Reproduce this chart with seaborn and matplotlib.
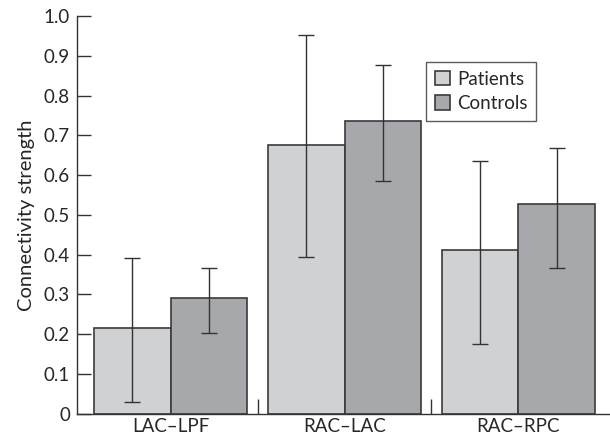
import numpy as np
import pandas as pd
import matplotlib
matplotlib.use('Agg')
import matplotlib.pyplot as plt
import seaborn as sns

# values
connections = ['LAC\u2013LPF', 'RAC\u2013LAC', 'RAC\u2013RPC']
groups = ['Patients', 'Controls']
patients_mean = [0.215, 0.675, 0.412]
controls_mean = [0.290, 0.735, 0.528]
patients_low = [0.030, 0.395, 0.175]
patients_high = [0.392, 0.952, 0.636]
controls_low = [0.202, 0.585, 0.367]
controls_high = [0.366, 0.878, 0.667]

df = pd.DataFrame({
    'connection': connections * 2,
    'group': [groups[0]] * 3 + [groups[1]] * 3,
    'strength': patients_mean + controls_mean,
    'low': patients_low + controls_low,
    'high': patients_high + controls_high,
})

sns.set_style('white')
plt.rcParams['font.family'] = ['Lato', 'DejaVu Sans']

fig = plt.figure(figsize=(6.1, 4.44), dpi=100)
ax = fig.add_axes([0.126, 0.068, 0.872, 0.896])

sns.barplot(data=df, x='connection', y='strength', hue='group',
            hue_order=groups, palette=['#d0d1d3', '#a7a8ab'],
            width=0.88, gap=0, edgecolor='#3a3a3a', linewidth=1.2,
            saturation=1, errorbar=None, ax=ax)

# error bars, placed at the centre of each drawn bar
bars = [p for p in ax.patches if p.get_height() > 0][:6]
for gi, g in enumerate(groups):
    sub = df[df['group'] == g]
    for ci, (_, row) in enumerate(sub.iterrows()):
        bar = bars[gi * 3 + ci]
        xc = bar.get_x() + bar.get_width() / 2
        ax.errorbar(xc, row['strength'],
                    yerr=[[row['strength'] - row['low']], [row['high'] - row['strength']]],
                    fmt='none', ecolor='#333333', elinewidth=1.0, capsize=5.5, capthick=1.0)

ax.set_xlim(-0.54, 2.52)
ax.set_ylim(0, 1.0)
ax.set_yticks(np.arange(0, 1.01, 0.1))
ax.set_yticklabels(['0'] + [f'{v:.1f}' for v in np.arange(0.1, 1.01, 0.1)])
ax.tick_params(axis='y', direction='in', length=10, width=1, color='#333333',
               labelsize=13.5, pad=5, left=True)
ax.tick_params(axis='x', length=0, labelsize=13.5, pad=3)
ax.set_xticks([0.5, 1.5], minor=True)
ax.tick_params(axis='x', which='minor', direction='in', length=11, width=1,
               color='#333333', bottom=True)

for s in ['top', 'right']:
    ax.spines[s].set_visible(False)
for s in ['left', 'bottom']:
    ax.spines[s].set_color('#333333')
    ax.spines[s].set_linewidth(1.0)

ax.set_xlabel('')
ax.set_ylabel('Connectivity strength', fontsize=14.5, labelpad=6)

leg = ax.legend(loc='upper left', bbox_to_anchor=(0.657, 0.884), frameon=True,
                fancybox=False, edgecolor='#333333', fontsize=13.5,
                handlelength=0.8, handleheight=0.8, handletextpad=0.4,
                borderpad=0.45, labelspacing=0.4, borderaxespad=0)
leg.get_frame().set_linewidth(1.0)

fig.savefig('out.png', dpi=100)
